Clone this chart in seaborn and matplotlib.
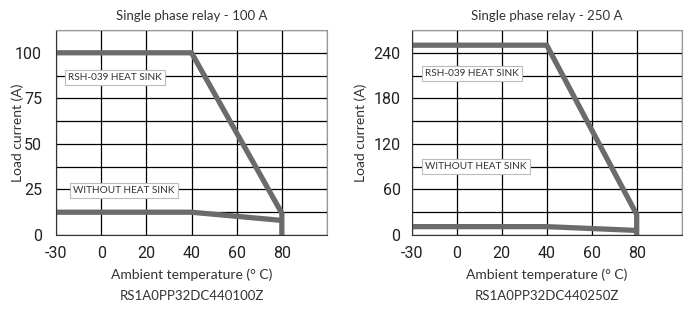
import numpy as np
import pandas as pd
import matplotlib
matplotlib.use('Agg')
import matplotlib.pyplot as plt
import seaborn as sns

sns.set_style('white')
plt.rcParams['font.family'] = ['Lato', 'DejaVu Sans']
plt.rcParams['axes.unicode_minus'] = False

# data
temp_heatsink = [-30, 40, 80, 80]
temp_noheatsink = [-30, 40, 80]

load_100_heatsink = [100, 100, 12, 0]
load_100_noheatsink = [12.5, 12.5, 8]

load_250_heatsink = [250, 250, 27, 0]
load_250_noheatsink = [11, 11, 6]

xticks = [-30, 0, 20, 40, 60, 80]
titles = ['Single phase relay - 100 A', 'Single phase relay - 250 A']
codes = ['RS1A0PP32DC440100Z', 'RS1A0PP32DC440250Z']
yticks_100 = [0, 25, 50, 75, 100]
yticks_250 = [0, 60, 120, 180, 240]

line_col = '#6b6b6b'


def fwd(x):
    x = np.asarray(x, dtype=float)
    return np.where(x < 0, x * 2 / 3, x)


def inv(x):
    x = np.asarray(x, dtype=float)
    return np.where(x < 0, x * 1.5, x)


def make_df(hs, nhs):
    return pd.concat([
        pd.DataFrame({'temp': temp_heatsink, 'load': hs, 'curve': 'RSH-039 HEAT SINK'}),
        pd.DataFrame({'temp': temp_noheatsink, 'load': nhs, 'curve': 'WITHOUT HEAT SINK'}),
    ])


panels = [
    (make_df(load_100_heatsink, load_100_noheatsink), yticks_100, 112.5, 12.5,
     (-22, 86.5), (-18.5, 24.3), -0.118),
    (make_df(load_250_heatsink, load_250_noheatsink), yticks_250, 270, 30,
     (-21, 213), (-21, 90), -0.165),
]

fig = plt.figure(figsize=(6.89, 3.09), dpi=100)
rects = [[0.0813, 0.2395, 0.3933, 0.6634], [0.5975, 0.2395, 0.3919, 0.6634]]

narrow = ['Liberation Sans Narrow', 'Roboto', 'DejaVu Sans']

for i, (df, yt, ytop, ystep, p1, p2, ylab_x) in enumerate(panels):
    ax = fig.add_axes(rects[i])
    ax.set_xscale('function', functions=(fwd, inv))
    sns.lineplot(data=df, x='temp', y='load', units='curve', estimator=None, sort=False,
                 color=line_col, lw=3.8, ax=ax, legend=False, solid_joinstyle='miter',
                 solid_capstyle='butt')
    ax.set_xlim(-30, 100)
    ax.set_ylim(0, ytop)
    ax.set_xticks(xticks)
    ax.set_xticks([100], minor=True)
    ax.set_yticks(yt)
    ax.set_yticks(np.arange(0, ytop + 0.01, ystep), minor=True)
    ax.grid(True, which='both', color='black', lw=0.9)
    ax.set_axisbelow(True)
    ax.tick_params(which='both', length=0, labelsize=11.5, labelcolor='#222222',
                   labelfontfamily=narrow)
    ax.tick_params(axis='x', pad=8)
    ax.tick_params(axis='y', pad=10 if i == 0 else 8)
    for s in ['left', 'bottom']:
        ax.spines[s].set_color('#333333')
    for s in ['top', 'right']:
        ax.spines[s].set_color('#999999')
    ax.set_xlabel('Ambient temperature (° C)', fontsize=10, color='#333333', labelpad=5)
    ax.set_ylabel('Load current (A)', fontsize=10, color='#333333')
    ax.yaxis.set_label_coords(ylab_x, 0.5)
    ax.set_title(titles[i], fontsize=9.5, color='#333333', pad=7)
    box = dict(boxstyle='square,pad=0.3', fc='white', ec='#bbbbbb', lw=0.8)
    ax.text(p1[0], p1[1], 'RSH-039 HEAT SINK', fontsize=7.2, va='center', ha='left',
            color='#333333', bbox=box)
    ax.text(p2[0], p2[1], 'WITHOUT HEAT SINK', fontsize=7.2, va='center', ha='left',
            color='#333333', bbox=box)
    ax.text(0.5, -0.27, codes[i], transform=ax.transAxes, fontsize=9.5, ha='center',
            va='top', color='#333333')

fig.savefig('out.png', dpi=100)
